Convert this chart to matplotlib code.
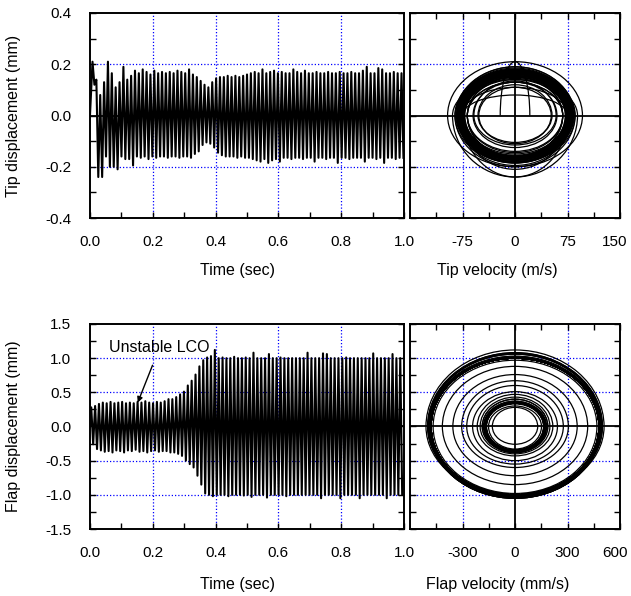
import matplotlib
matplotlib.use("Agg")
import matplotlib.pyplot as plt
from matplotlib.patches import Arc
from matplotlib.transforms import ScaledTranslation
from matplotlib.ticker import MultipleLocator, FixedLocator, FormatStrFormatter
import numpy as np

plt.rcParams['font.family'] = ['Liberation Sans', 'DejaVu Sans']
plt.rcParams['axes.unicode_minus'] = False

# ---------------- data ----------------
# Tip displacement: per-cycle positive / negative peaks (mm)
tip_period = 0.0123      # s per cycle
tip_t0 = 0.008           # time of first positive peak (s)
tip_upper = [0.21, 0.14, 0.08, 0.13, 0.21, 0.165, 0.11, 0.13, 0.19, 0.14, 0.155,
             0.175, 0.165, 0.18, 0.17, 0.16, 0.175, 0.165, 0.17, 0.165, 0.17, 0.165,
             0.175, 0.17, 0.165, 0.18, 0.16,
             0.15, 0.135, 0.12, 0.11, 0.13, 0.145,
             0.15, 0.15, 0.155, 0.15, 0.155, 0.15, 0.155, 0.16,
             0.165, 0.17, 0.165, 0.18, 0.165, 0.17, 0.175, 0.165, 0.17, 0.165,
             0.165, 0.18, 0.17, 0.165, 0.175, 0.165, 0.165, 0.17, 0.165, 0.165,
             0.17, 0.165, 0.165, 0.17, 0.165, 0.165, 0.17, 0.165, 0.165, 0.175,
             0.19, 0.165, 0.165, 0.185, 0.18, 0.165, 0.165, 0.17, 0.165, 0.165]
tip_lower = [0.12, -0.24, -0.24, -0.16, -0.20, -0.20, -0.21, -0.16, -0.17, -0.17, -0.195,
             -0.16, -0.165, -0.16, -0.17, -0.16, -0.165, -0.16, -0.16, -0.165, -0.16,
             -0.16, -0.165, -0.16, -0.16, -0.165, -0.15,
             -0.14, -0.115, -0.105, -0.11, -0.125, -0.145,
             -0.155, -0.16, -0.16, -0.16, -0.165, -0.16, -0.165, -0.165,
             -0.17, -0.175, -0.18, -0.17, -0.185, -0.175, -0.17, -0.18, -0.165, -0.165,
             -0.17, -0.165, -0.165, -0.17, -0.165, -0.165, -0.18, -0.165, -0.165, -0.17,
             -0.165, -0.165, -0.185, -0.165, -0.165, -0.17, -0.165, -0.165, -0.165, -0.18,
             -0.165, -0.165, -0.17, -0.165, -0.185, -0.165, -0.165, -0.17, -0.165, -0.165]
tip_vel_per_mm = 470.0   # velocity amplitude / displacement amplitude in phase plot

# Flap displacement: per-cycle positive / negative peaks (mm)
flap_period = 0.0123
flap_t0 = 0.004
flap_upper = [0.28, 0.30, 0.33, 0.35, 0.34, 0.36, 0.34, 0.35, 0.36, 0.34, 0.35, 0.34,
              0.36, 0.35, 0.37, 0.35, 0.34, 0.36, 0.35,
              0.37, 0.40, 0.40, 0.43, 0.47, 0.51, 0.60, 0.67, 0.76, 0.88, 0.97, 1.01,
              1.03, 1.12,
              1.0, 1.01, 1.0, 1.0, 1.02, 1.0, 1.0, 1.01, 1.0, 1.08,
              1.0, 1.0, 1.0, 1.06, 1.0, 1.0, 1.01, 1.0, 1.0, 1.0,
              1.0, 1.0, 1.0, 1.08, 1.0, 1.0, 1.0, 1.07, 1.06, 1.0,
              1.0, 1.0, 1.0, 1.01, 1.0, 1.0, 1.0, 1.0, 1.0, 1.0,
              1.07, 1.0, 1.0, 1.0, 1.0, 1.06, 1.0, 1.0]
flap_lower = [-0.26, -0.33, -0.35, -0.37, -0.36, -0.38, -0.35, -0.36, -0.38, -0.35, -0.36,
              -0.34, -0.37, -0.36, -0.38, -0.36, -0.35, -0.37, -0.36,
              -0.36, -0.38, -0.38, -0.40, -0.43, -0.50, -0.55, -0.60, -0.72, -0.85, -0.98,
              -1.0, -1.02, -1.0,
              -1.0, -1.0, -1.02, -1.0, -1.0, -1.0, -1.01, -1.0, -1.03, -1.0,
              -1.0, -1.0, -1.04, -1.0, -1.0, -1.0, -1.0, -1.02, -1.0, -1.0,
              -1.0, -1.0, -1.0, -1.0, -1.0, -1.0, -1.05, -1.0, -1.0, -1.0,
              -1.0, -1.05, -1.0, -1.0, -1.0, -1.0, -1.05, -1.0, -1.0, -1.0,
              -1.0, -1.0, -1.0, -1.05, -1.0, -1.0, -1.0, -1.0]
flap_vel_per_mm = 480.0

time_ticks = [0.0, 0.2, 0.4, 0.6, 0.8, 1.0]
tip_disp_ticks = [-0.4, -0.2, 0.0, 0.2, 0.4]
flap_disp_ticks = [-1.5, -1.0, -0.5, 0.0, 0.5, 1.0, 1.5]
tip_vel_ticks = [-75, 0, 75, 150]
flap_vel_ticks = [-300, 0, 300, 600]

annot_text = "Unstable LCO"
annot_xy = (0.152, 0.35)
annot_text_xy = (0.222, 1.16)

# ---------------- helpers ----------------
GRID = dict(color='#0000ff', linestyle=(0, (1, 1.6)), linewidth=0.9, zorder=1)
FS_TICK = 11
FS_LAB = 11.5


def zigzag(t0, period, up, low):
    n = len(up)
    tu = t0 + period * np.arange(n)
    tl = tu + period / 2
    t = np.empty(2 * n + 1)
    y = np.empty(2 * n + 1)
    t[0], y[0] = 0.0, 0.0
    t[1::2], t[2::2] = tu, tl
    y[1::2], y[2::2] = up, low
    return t, y


def style(ax, four_sides):
    for s in ax.spines.values():
        s.set_linewidth(1.4)
        s.set_zorder(5)
    ax.tick_params(which='both', direction='in', length=4, width=1,
                   top=four_sides, right=True, labelsize=FS_TICK)
    ax.tick_params(axis='x', pad=12)
    ax.tick_params(axis='y', pad=13.5)


def shift_last_xlabel(fig, ax, dx_px):
    lab = ax.get_xticklabels()[-1]
    lab.set_transform(lab.get_transform() +
                      ScaledTranslation(dx_px / fig.dpi, 0, fig.dpi_scale_trans))


def phase(ax, up, low, ratio):
    for u, l in zip(up, low):
        v = ratio * (u - l) / 2.0
        if u > 0:
            ax.add_patch(Arc((0, 0), 2 * v, 2 * u, theta1=0, theta2=180,
                             color='black', lw=0.9, zorder=3))
        if l < 0:
            ax.add_patch(Arc((0, 0), 2 * v, -2 * l, theta1=180, theta2=360,
                             color='black', lw=0.9, zorder=3))


fig = plt.figure(figsize=(6.31, 5.96), dpi=100)
axL1 = fig.add_axes([0.1426, 0.6342, 0.4977, 0.3440])
axR1 = fig.add_axes([0.6498, 0.6342, 0.3328, 0.3440])
axL2 = fig.add_axes([0.1426, 0.1124, 0.4977, 0.3440])
axR2 = fig.add_axes([0.6498, 0.1124, 0.3328, 0.3440])

# ---- top-left: tip displacement time history
t, y = zigzag(tip_t0, tip_period, tip_upper, tip_lower)
axL1.plot(t, y, color='black', lw=1.5, zorder=3)
axL1.set_xlim(0, 1.0)
axL1.set_ylim(-0.4, 0.4)
axL1.set_xticks(time_ticks)
axL1.set_yticks(tip_disp_ticks)
axL1.xaxis.set_minor_locator(MultipleLocator(0.1))
axL1.yaxis.set_minor_locator(MultipleLocator(0.1))
axL1.xaxis.set_major_formatter(FormatStrFormatter('%.1f'))
axL1.yaxis.set_major_formatter(FormatStrFormatter('%.1f'))
for xv in time_ticks[1:-1]:
    axL1.axvline(xv, **GRID)
for yv in [-0.2, 0.2]:
    axL1.axhline(yv, **GRID)
axL1.axhline(0, color='black', lw=1.3, zorder=4)
style(axL1, False)
axL1.set_xlabel('Time (sec)', fontsize=FS_LAB)
axL1.set_ylabel('Tip displacement (mm)', fontsize=FS_LAB)
axL1.xaxis.set_label_coords(0.471, -0.22)
axL1.yaxis.set_label_coords(-0.22, 0.5)

# ---- top-right: tip phase plane
phase(axR1, tip_upper, tip_lower, tip_vel_per_mm)
axR1.set_xlim(-150, 150)
axR1.set_ylim(-0.4, 0.4)
axR1.set_xticks(tip_vel_ticks)
axR1.xaxis.set_minor_locator(FixedLocator([-112.5, -37.5, 37.5, 112.5]))
axR1.set_yticks(tip_disp_ticks)
axR1.yaxis.set_minor_locator(MultipleLocator(0.1))
axR1.set_yticklabels([])
for xv in [-75, 75]:
    axR1.axvline(xv, **GRID)
for yv in [-0.2, 0.2]:
    axR1.axhline(yv, **GRID)
axR1.axhline(0, color='black', lw=1.3, zorder=4)
axR1.axvline(0, color='black', lw=1.3, zorder=4)
style(axR1, True)
axR1.set_xlabel('Tip velocity (m/s)', fontsize=FS_LAB)
axR1.xaxis.set_label_coords(0.417, -0.22)
shift_last_xlabel(fig, axR1, -5)

# ---- bottom-left: flap displacement time history
t, y = zigzag(flap_t0, flap_period, flap_upper, flap_lower)
axL2.plot(t, y, color='black', lw=1.5, zorder=3)
axL2.set_xlim(0, 1.0)
axL2.set_ylim(-1.5, 1.5)
axL2.set_xticks(time_ticks)
axL2.set_yticks(flap_disp_ticks)
axL2.xaxis.set_minor_locator(MultipleLocator(0.1))
axL2.yaxis.set_minor_locator(MultipleLocator(0.25))
axL2.xaxis.set_major_formatter(FormatStrFormatter('%.1f'))
axL2.yaxis.set_major_formatter(FormatStrFormatter('%.1f'))
for xv in time_ticks[1:-1]:
    axL2.axvline(xv, **GRID)
for yv in [-1.0, -0.5, 0.5, 1.0]:
    axL2.axhline(yv, **GRID)
axL2.axhline(0, color='black', lw=1.3, zorder=4)
style(axL2, False)
axL2.set_xlabel('Time (sec)', fontsize=FS_LAB)
axL2.set_ylabel('Flap displacement (mm)', fontsize=FS_LAB)
axL2.xaxis.set_label_coords(0.471, -0.234)
axL2.yaxis.set_label_coords(-0.22, 0.5)
axL2.annotate(annot_text, xy=annot_xy, xytext=annot_text_xy, fontsize=FS_LAB,
              ha='center', va='center', zorder=6,
              arrowprops=dict(arrowstyle='-|>', color='black', lw=1,
                              mutation_scale=8, shrinkA=6, shrinkB=0))

# ---- bottom-right: flap phase plane
phase(axR2, flap_upper, flap_lower, flap_vel_per_mm)
axR2.set_xlim(-600, 600)
axR2.set_ylim(-1.5, 1.5)
axR2.set_xticks(flap_vel_ticks)
axR2.xaxis.set_minor_locator(FixedLocator([-450, -150, 150, 450]))
axR2.set_yticks(flap_disp_ticks)
axR2.yaxis.set_minor_locator(MultipleLocator(0.25))
axR2.set_yticklabels([])
for xv in [-300, 300]:
    axR2.axvline(xv, **GRID)
for yv in [-1.0, -0.5, 0.5, 1.0]:
    axR2.axhline(yv, **GRID)
axR2.axhline(0, color='black', lw=1.3, zorder=4)
axR2.axvline(0, color='black', lw=1.3, zorder=4)
style(axR2, True)
axR2.set_xlabel('Flap velocity (mm/s)', fontsize=FS_LAB)
axR2.xaxis.set_label_coords(0.417, -0.234)
shift_last_xlabel(fig, axR2, -5)

fig.savefig('out.png', dpi=100)
